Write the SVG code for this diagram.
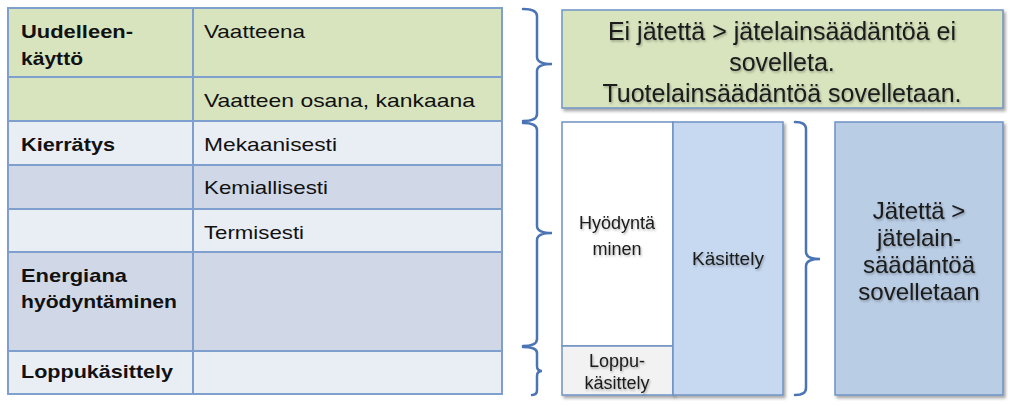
<svg xmlns="http://www.w3.org/2000/svg" width="1024" height="406" viewBox="0 0 1024 406">
<defs>
<filter id="sh" x="-10%" y="-10%" width="125%" height="125%">
<feDropShadow dx="2" dy="2.5" stdDeviation="1.5" flood-color="#000" flood-opacity="0.35"/>
</filter>
<filter id="tsh" x="-10%" y="-20%" width="130%" height="150%">
<feDropShadow dx="1" dy="1.5" stdDeviation="1" flood-color="#000" flood-opacity="0.3"/>
</filter>
</defs>
<style>
.g{fill:#D7E4BD}
.l{fill:#E9EDF4}
.d{fill:#D0D8E8}
.grid{stroke:#7F9FCF;stroke-width:2;fill:none}
.t{font-family:"Liberation Sans",Arial,sans-serif;font-size:19px;fill:#111}
.b{font-weight:bold}
.r{font-family:"Liberation Sans",Arial,sans-serif;fill:#1a1a1a;text-anchor:middle;filter:url(#tsh)}
.box{stroke:#6F93C4;stroke-width:1.5}
.brace{fill:none;stroke:#4A74B4;stroke-width:2.5;stroke-linecap:round}
</style>
<rect width="1024" height="406" fill="#fff"/>
<g id="table">
<g id="row-uudelleenkaytto">
<rect class="g" x="8" y="8" width="494" height="113"/>
<text class="t b" x="21" y="38" textLength="112" lengthAdjust="spacingAndGlyphs">Uudelleen-</text>
<text class="t b" x="21" y="65" textLength="62" lengthAdjust="spacingAndGlyphs">käyttö</text>
<text class="t" x="204" y="38" textLength="101" lengthAdjust="spacingAndGlyphs">Vaatteena</text>
<text class="t" x="204" y="107" textLength="271" lengthAdjust="spacingAndGlyphs">Vaatteen osana, kankaana</text>
</g>
<g id="row-kierratys">
<rect class="l" x="8" y="121" width="494" height="44"/>
<rect class="d" x="8" y="165" width="494" height="44"/>
<rect class="l" x="8" y="209" width="494" height="43"/>
<text class="t b" x="21" y="151" textLength="94" lengthAdjust="spacingAndGlyphs">Kierrätys</text>
<text class="t" x="204" y="151" textLength="133" lengthAdjust="spacingAndGlyphs">Mekaanisesti</text>
<text class="t" x="204" y="194" textLength="124" lengthAdjust="spacingAndGlyphs">Kemiallisesti</text>
<text class="t" x="204" y="239" textLength="100" lengthAdjust="spacingAndGlyphs">Termisesti</text>
</g>
<g id="row-energiana">
<rect class="d" x="8" y="252" width="494" height="99"/>
<text class="t b" x="21" y="282" textLength="106" lengthAdjust="spacingAndGlyphs">Energiana</text>
<text class="t b" x="21" y="308" textLength="156" lengthAdjust="spacingAndGlyphs">hyödyntäminen</text>
</g>
<g id="row-loppukasittely">
<rect class="l" x="8" y="351" width="494" height="43"/>
<text class="t b" x="21" y="378" textLength="152" lengthAdjust="spacingAndGlyphs">Loppukäsittely</text>
</g>
<path class="grid" d="M8,8H502V394H8Z M193,8V394 M8,77H502 M8,121H502 M8,165H502 M8,209H502 M8,252H502 M8,351H502"/>
</g>
<g id="connectors">
<path class="brace" d="M523,9Q537,9 537,16V57Q537,64 552,64Q537,64 537,71V114Q537,121 523,121"/>
<path class="brace" d="M523,123Q537,123 537,130V226Q537,233 552,233Q537,233 537,240V339Q537,346 523,346"/>
<path class="brace" d="M523,347Q537,347 537,353V366Q537,371 542,371Q537,371 537,376V390Q537,395 532,395"/>
<path class="brace" d="M795,122Q806,122 806,129V252Q806,259 820,259Q806,259 806,266V388Q806,395 795,395"/>
</g>
<g id="ei-jatetta">
<rect class="box" x="562" y="10" width="441" height="98" fill="#D7E4BD" filter="url(#sh)"/>
<text class="r" x="782" y="40" font-size="25">Ei jätettä &gt; jätelainsäädäntöä ei</text>
<text class="r" x="782" y="71" font-size="25">sovelleta.</text>
<text class="r" x="782" y="102" font-size="25">Tuotelainsäädäntöä sovelletaan.</text>
</g>
<g id="hyodyntaminen">
<rect class="box" x="562" y="122" width="111" height="224" fill="#FFFFFF" filter="url(#sh)"/>
<text class="r" x="617" y="229" font-size="18">Hyödyntä</text>
<text class="r" x="617" y="255" font-size="18">minen</text>
</g>
<g id="loppu-kasittely">
<rect class="box" x="562" y="346" width="111" height="49" fill="#F2F2F2" filter="url(#sh)"/>
<text class="r" x="617" y="367" font-size="18">Loppu-</text>
<text class="r" x="617" y="389" font-size="18">käsittely</text>
</g>
<g id="kasittely">
<rect class="box" x="673" y="122" width="110" height="273" fill="#C6D9F1" filter="url(#sh)"/>
<text class="r" x="728" y="265" font-size="19">Käsittely</text>
</g>
<g id="jatetta">
<rect class="box" x="835" y="122" width="168" height="273" fill="#B9CDE5" filter="url(#sh)"/>
<text class="r" x="919" y="219" font-size="24">Jätettä &gt;</text>
<text class="r" x="919" y="246" font-size="24">jätelain-</text>
<text class="r" x="919" y="273" font-size="24">säädäntöä</text>
<text class="r" x="919" y="300" font-size="24">sovelletaan</text>
</g>
</svg>
